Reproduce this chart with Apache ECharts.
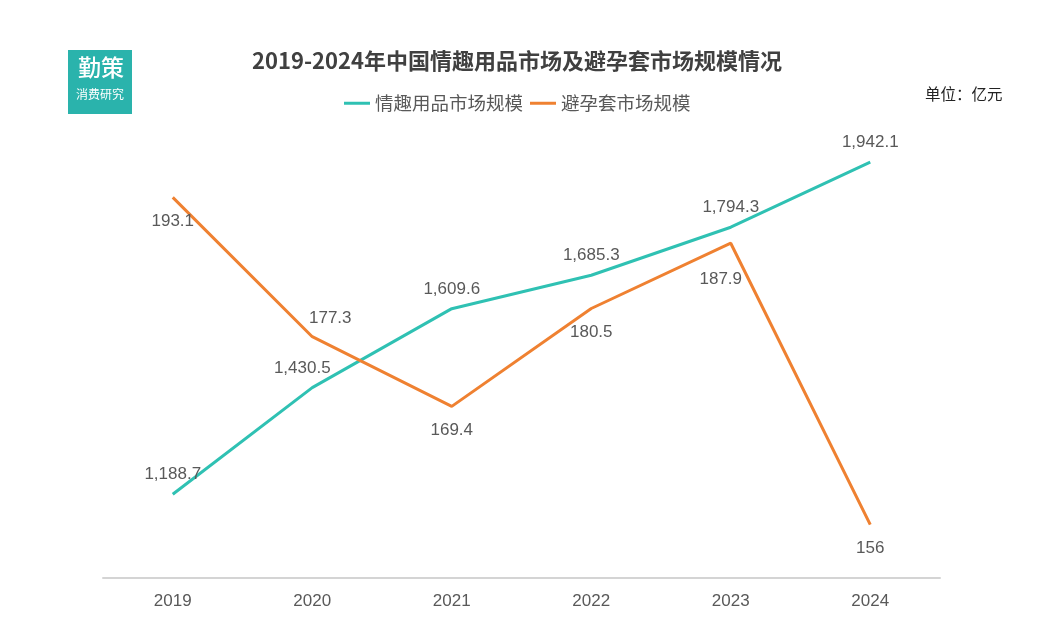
<!DOCTYPE html>
<html>
<head>
<meta charset="utf-8">
<script src="https://cdn.jsdelivr.net/npm/echarts@6/dist/echarts.min.js"></script>
<style>
  html, body { margin: 0; padding: 0; background: #fff; }
  #main { width: 1050px; height: 643px; }
</style>
</head>
<body>
<div id="main"></div>
<script>
var chartDom = document.getElementById('main');
var myChart = echarts.init(chartDom);
var option;

const years = ['2019', '2020', '2021', '2022', '2023', '2024'];
const toyMarket = [1188.7, 1430.5, 1609.6, 1685.3, 1794.3, 1942.1];
const condomMarket = [193.1, 177.3, 169.4, 180.5, 187.9, 156];
const seriesNames = ['情趣用品市场规模', '避孕套市场规模'];

const teal = '#2fc1b3';
const orange = '#ef8131';
const labelFont = '"Liberation Sans Narrow", "Liberation Sans", Arial, sans-serif';

// label placement per point, tuned to the reference
const toyLabelPos = ['top', 'top', 'top', 'top', 'top', 'top'];
const toyLabelOffset = [[0, 0], [-10, 0], [0, 0], [0, 0], [0, 0], [0, 0]];
const toyLabelDist = [11, 11, 11, 11, 11, 11];
const condomLabelPos = ['bottom', 'top', 'bottom', 'bottom', 'bottom', 'bottom'];
const condomLabelOffset = [[0, 0], [18, 0], [0, 0], [0, 0], [-10, 13], [0, 0]];
const condomLabelDist = [15, 10, 15, 15, 15, 15];

function fmt(v) {
  return v.toLocaleString('en-US', { maximumFractionDigits: 1 });
}

function buildData(values, pos, offs, dist) {
  return values.map(function (v, i) {
    return {
      value: v,
      label: { position: pos[i], offset: offs[i], distance: dist[i] }
    };
  });
}

option = {
  backgroundColor: '#fff',
  title: {
    text: '2019-2024年中国情趣用品市场及避孕套市场规模情况',
    left: 512,
    textAlign: 'center',
    top: 45,
    textStyle: {
      fontSize: 22,
      fontWeight: 'bold',
      color: '#404040',
      fontFamily: '"Noto Sans CJK SC", sans-serif'
    }
  },
  legend: {
    data: seriesNames,
    left: 339,
    top: 89,
    itemWidth: 26,
    itemHeight: 3,
    itemGap: 7,
    icon: 'rect',
    textStyle: {
      fontSize: 18.5,
      color: '#595959',
      fontFamily: '"Noto Sans CJK SC", sans-serif'
    }
  },
  graphic: [
    {
      type: 'rect',
      left: 68,
      top: 50,
      shape: { width: 64, height: 64 },
      style: { fill: '#2ab3ac' }
    },
    {
      type: 'text',
      left: 78,
      top: 56,
      style: {
        text: '勤策',
        fill: '#fff',
        font: '500 23px "Noto Sans CJK SC", sans-serif'
      }
    },
    {
      type: 'text',
      left: 76,
      top: 88,
      style: {
        text: '消费研究',
        fill: '#fff',
        font: '12px "Noto Sans CJK SC", sans-serif'
      }
    },
    {
      type: 'text',
      left: 925,
      top: 86,
      style: {
        text: '单位：亿元',
        fill: '#222',
        font: '15.5px "Noto Sans CJK SC", sans-serif'
      }
    }
  ],
  grid: {
    left: 103,
    right: 110,
    top: 136.5,
    bottom: 65.5,
    containLabel: false
  },
  xAxis: {
    type: 'category',
    data: years,
    boundaryGap: true,
    axisLine: { lineStyle: { color: '#d4d4d4', width: 2 } },
    axisTick: { show: false },
    axisLabel: {
      margin: 15,
      fontSize: 17,
      color: '#595959',
      fontFamily: labelFont
    },
    splitLine: { show: false }
  },
  yAxis: [
    {
      type: 'value',
      min: 1000,
      max: 2000,
      show: false,
      splitLine: { show: false }
    },
    {
      type: 'value',
      min: 150,
      max: 200,
      show: false,
      splitLine: { show: false }
    }
  ],
  series: [
    {
      name: seriesNames[0],
      type: 'line',
      yAxisIndex: 0,
      data: buildData(toyMarket, toyLabelPos, toyLabelOffset, toyLabelDist),
      symbol: 'circle',
      symbolSize: 0,
      color: teal,
      lineStyle: { width: 3, color: teal },
      label: {
        show: true,
        fontSize: 17,
        color: '#595959',
        fontFamily: labelFont,
        formatter: function (p) { return fmt(p.value); }
      }
    },
    {
      name: seriesNames[1],
      type: 'line',
      yAxisIndex: 1,
      data: buildData(condomMarket, condomLabelPos, condomLabelOffset, condomLabelDist),
      symbol: 'circle',
      symbolSize: 0,
      color: orange,
      lineStyle: { width: 3, color: orange },
      label: {
        show: true,
        fontSize: 17,
        color: '#595959',
        fontFamily: labelFont,
        formatter: function (p) { return fmt(p.value); }
      }
    }
  ]
};

option && myChart.setOption(option);
</script>
</body>
</html>
